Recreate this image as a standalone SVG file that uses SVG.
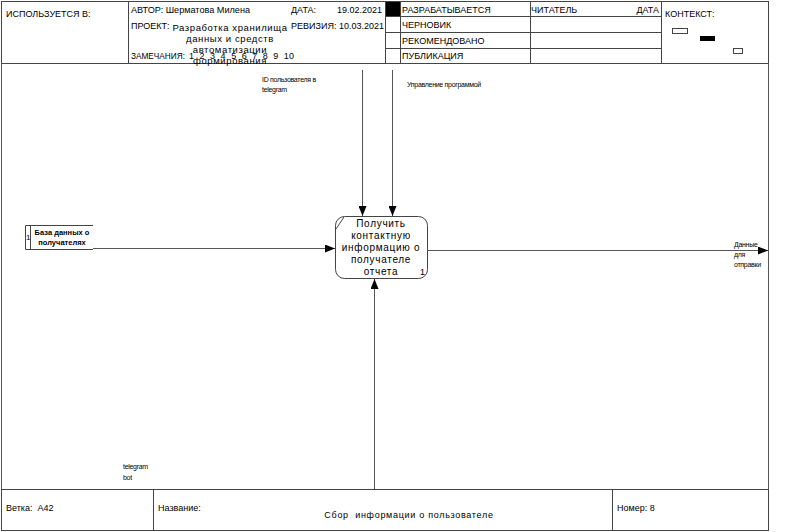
<svg xmlns="http://www.w3.org/2000/svg" width="799" height="532" viewBox="0 0 799 532">
  <style>
    .t { font-family: "Liberation Sans", Arial, sans-serif; font-size: 9px; fill: #000; }
    .s { font-family: "Liberation Sans", Arial, sans-serif; font-size: 7px; fill: #000; letter-spacing: -0.3px; }
    .n { font-family: "Liberation Sans", Arial, sans-serif; font-size: 10px; fill: #000; letter-spacing: 0.7px; text-anchor: middle; }
    .g { stroke: #444; stroke-width: 1; fill: none; }
    .ln { stroke: #555; stroke-width: 1; fill: none; }
  </style>
  <defs>
    <marker id="arr" markerWidth="10" markerHeight="8" refX="10" refY="4" orient="auto" markerUnits="userSpaceOnUse">
      <path d="M0,0 L10,4 L0,8 Z" fill="#000"/>
    </marker>
  </defs>
  <rect width="799" height="532" fill="#fff"/>

  <!-- header -->
  <g id="header">
    <rect class="g" x="1.5" y="1.5" width="767" height="62"/>
    <line class="g" x1="128.5" y1="1" x2="128.5" y2="63"/>
    <line class="g" x1="385.5" y1="1" x2="385.5" y2="63"/>
    <line class="g" x1="400.5" y1="1" x2="400.5" y2="63"/>
    <line class="g" x1="530.5" y1="1" x2="530.5" y2="63"/>
    <line class="g" x1="661.5" y1="1" x2="661.5" y2="63"/>
    <line class="g" x1="385" y1="16.5" x2="661" y2="16.5"/>
    <line class="g" x1="385" y1="32.5" x2="661" y2="32.5"/>
    <line class="g" x1="385" y1="48.5" x2="661" y2="48.5"/>
    <rect x="386" y="2" width="14" height="14" fill="#000"/>
    <text class="t" x="6" y="17">ИСПОЛЬЗУЕТСЯ В:</text>
    <text class="t" x="131" y="13" textLength="119" lengthAdjust="spacingAndGlyphs">АВТОР: Шерматова Милена</text>
    <text class="t" x="291" y="13">ДАТА:</text>
    <text class="t" x="382" y="13" text-anchor="end">19.02.2021</text>
    <text class="t" x="131" y="29">ПРОЕКТ:</text>
    <text class="t" x="291" y="29">РЕВИЗИЯ: 10.03.2021</text>
    <g style="font-family:'Liberation Sans',Arial,sans-serif;font-size:9.5px;letter-spacing:0.6px" text-anchor="middle">
      <text x="230" y="31">Разработка хранилища</text>
      <text x="230" y="42">данных и средств</text>
      <text x="230" y="53">автоматизации</text>
      <text x="230" y="64">формирования</text>
    </g>
    <text class="t" x="131" y="59" textLength="54" lengthAdjust="spacingAndGlyphs">ЗАМЕЧАНИЯ:</text>
    <text class="t" x="189" y="59" textLength="105" xml:space="preserve">1  2  3  4  5  6  7  8  9  10</text>
    <text class="t" x="402" y="13">РАЗРАБАТЫВАЕТСЯ</text>
    <text class="t" x="402" y="28">ЧЕРНОВИК</text>
    <text class="t" x="402" y="44">РЕКОМЕНДОВАНО</text>
    <text class="t" x="402" y="59">ПУБЛИКАЦИЯ</text>
    <text class="t" x="531" y="13">ЧИТАТЕЛЬ</text>
    <text class="t" x="659" y="13" text-anchor="end">ДАТА</text>
    <text class="t" x="665" y="17">КОНТЕКСТ:</text>
    <rect x="672.5" y="28.5" width="15" height="5" fill="none" stroke="#444"/>
    <rect x="700" y="36" width="15" height="5" fill="#000"/>
    <rect x="733.5" y="48.5" width="9" height="5" fill="none" stroke="#444"/>
  </g>

  <!-- drawing frame -->
  <g id="frame">
    <line class="ln" x1="1.5" y1="63" x2="1.5" y2="490"/>
    <line class="ln" x1="768.5" y1="63" x2="768.5" y2="490"/>
  </g>

  <!-- footer -->
  <g id="footer">
    <rect class="g" x="1.5" y="489.5" width="767" height="41"/>
    <line class="g" x1="153.5" y1="489" x2="153.5" y2="531"/>
    <line class="g" x1="612.5" y1="489" x2="612.5" y2="531"/>
    <text class="t" x="6" y="511" xml:space="preserve">Ветка:  A42</text>
    <text class="t" x="158" y="511">Название:</text>
    <text x="409" y="518" text-anchor="middle" style="font-family:'Liberation Sans',Arial,sans-serif;font-size:9px;letter-spacing:0.7px" xml:space="preserve">Сбор  информации о пользователе</text>
    <text class="t" x="617" y="511">Номер: 8</text>
  </g>

  <!-- activity box -->
  <g id="node-a1">
    <rect x="335.5" y="216.5" width="92" height="62" rx="9" ry="9" fill="#fff" stroke="#444"/>
    <line x1="336" y1="229" x2="344" y2="217" stroke="#444"/>
    <text class="n" x="381" y="227">Получить</text>
    <text class="n" x="381" y="239">контактную</text>
    <text class="n" x="381" y="251">информацию о</text>
    <text class="n" x="381" y="263">получателе</text>
    <text class="n" x="381" y="275">отчета</text>
    <text x="420" y="275" style="font-family:'Liberation Sans',Arial,sans-serif;font-size:9px">1</text>
  </g>

  <!-- external input -->
  <g id="node-db">
    <path d="M93,225.5 H25.5 V249.5 H93" fill="none" stroke="#444"/>
    <line x1="30.5" y1="225" x2="30.5" y2="249" stroke="#444"/>
    <text x="26" y="240" style="font-family:'Liberation Sans',Arial,sans-serif;font-size:8px">1</text>
    <text x="62" y="235" text-anchor="middle" style="font-family:'Liberation Sans',Arial,sans-serif;font-size:7.5px;font-weight:bold">База данных о</text>
    <text x="62" y="245" text-anchor="middle" style="font-family:'Liberation Sans',Arial,sans-serif;font-size:7.5px;font-weight:bold">получателях</text>
  </g>

  <!-- arrows -->
  <g id="connectors">
    <line class="ln" x1="93" y1="248.5" x2="335" y2="248.5" marker-end="url(#arr)"/>
    <line class="ln" x1="362.5" y1="70" x2="362.5" y2="216" marker-end="url(#arr)"/>
    <line class="ln" x1="392.5" y1="70" x2="392.5" y2="216" marker-end="url(#arr)"/>
    <line class="ln" x1="427" y1="250.5" x2="768" y2="250.5" marker-end="url(#arr)"/>
    <line class="ln" x1="374.5" y1="489" x2="374.5" y2="279" marker-end="url(#arr)"/>
  </g>

  <!-- arrow labels -->
  <g id="labels">
    <text class="s" x="262" y="82">ID пользователя в</text>
    <text class="s" x="262" y="92">telegram</text>
    <text class="s" x="407" y="87">Управление программой</text>
    <text class="s" x="734" y="247">Данные</text>
    <text class="s" x="734" y="257">для</text>
    <text class="s" x="734" y="267">отправки</text>
    <text class="s" x="123" y="469">telegram</text>
    <text class="s" x="123" y="480">bot</text>
  </g>
</svg>
